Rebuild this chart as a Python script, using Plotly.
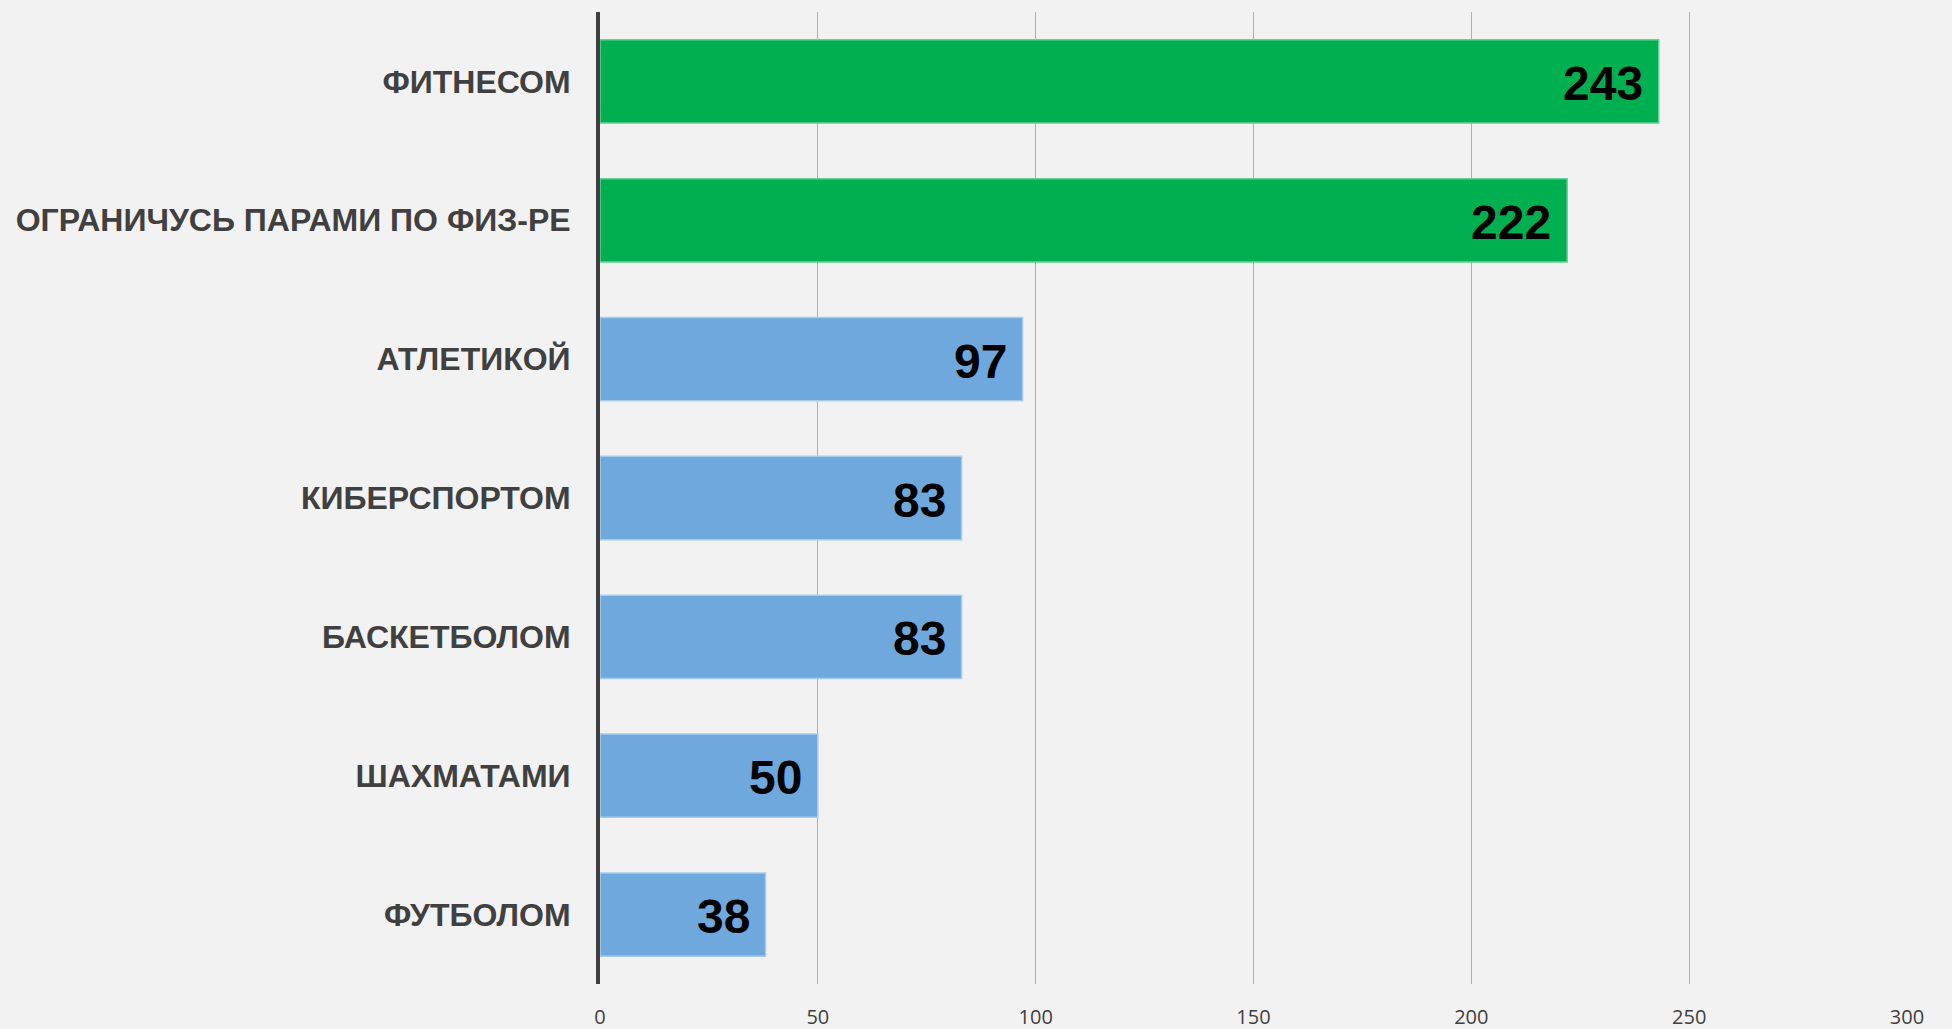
import plotly.graph_objects as go

categories = ["ФИТНЕСОМ", "ОГРАНИЧУСЬ ПАРАМИ ПО ФИЗ-РЕ", "АТЛЕТИКОЙ", "КИБЕРСПОРТОМ",
              "БАСКЕТБОЛОМ", "ШАХМАТАМИ", "ФУТБОЛОМ"]
values = [243, 222, 97, 83, 83, 50, 38]
bar_colors = ["#00B050", "#00B050", "#6FA8DC", "#6FA8DC", "#6FA8DC", "#6FA8DC", "#6FA8DC"]
line_colors = ["#66D096", "#66D096", "#A9CBEA", "#A9CBEA", "#A9CBEA", "#A9CBEA", "#A9CBEA"]
tick_vals = [0, 50, 100, 150, 200, 250, 300]

fig = go.Figure(go.Bar(
    x=values,
    y=categories,
    orientation="h",
    marker=dict(color=bar_colors, line=dict(color=line_colors, width=1.5)),
    hoverinfo="x+y",
))

for cat, val in zip(categories, values):
    fig.add_annotation(
        x=val, y=cat, xref="x", yref="y",
        text=str(val), showarrow=False,
        xanchor="right", yanchor="middle", xshift=-14, yshift=-2,
        font=dict(family="Liberation Sans", size=48, color="#000000", weight="bold"),
    )

fig.update_layout(
    width=1952, height=1029,
    paper_bgcolor="#F2F2F2", plot_bgcolor="#F2F2F2",
    margin=dict(l=600, r=45, t=12, b=45, autoexpand=False),
    bargap=0.4,
    showlegend=False,
)
fig.update_xaxes(
    range=[0, 300], tickvals=tick_vals,
    showgrid=True, gridcolor="#B0B0B0", gridwidth=1.3,
    zeroline=False, showline=False, automargin=False,
    tickfont=dict(family="Open Sans", size=20, color="#404040"),
    ticks="", ticklabelstandoff=19,
)
fig.update_yaxes(
    categoryorder="array", categoryarray=categories[::-1],
    showgrid=False, zeroline=False,
    showline=True, linecolor="#404040", linewidth=4,
    automargin=False,
    tickfont=dict(family="Liberation Sans", size=32, color="#404040", weight="bold"),
    ticks="", ticklabelstandoff=19,
)

fig.write_html("out.html", config={"displayModeBar": False},
               post_script="document.body.style.margin='0';document.body.style.overflow='hidden';")
